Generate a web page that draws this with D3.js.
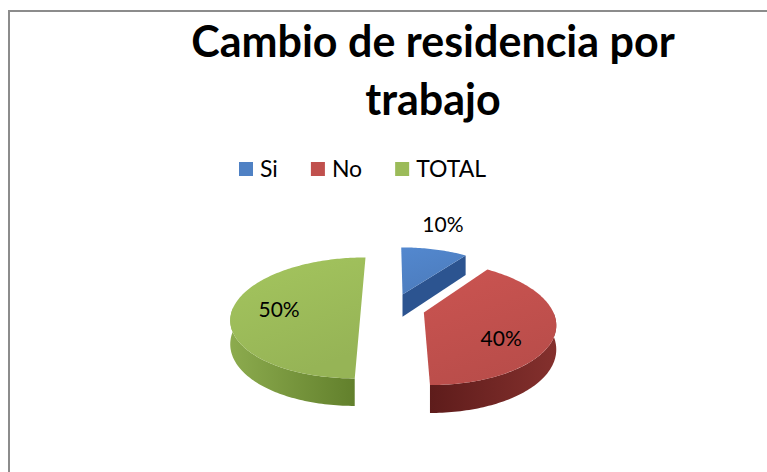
<!DOCTYPE html>
<html>
<head>
<meta charset="utf-8">
<script src="https://cdn.jsdelivr.net/npm/d3@7"></script>
<style>
  body { margin: 0; background: #fff; }
  svg { display: block; }
</style>
</head>
<body>
<script>
var categories = ['Si', 'No', 'TOTAL'];
var values = [10, 40, 50];
var labels = ['10%', '40%', '50%'];
var titleLines = ['Cambio de residencia por', 'trabajo'];

var W = 767, H = 472;
var font = 'Lato, "Open Sans", sans-serif';

// 3d look: top face colour, wall colours (light -> dark)
var tops = ['#4f81c4', '#c0504d', '#9bbb59'];
var walls = [['#3b6aa6', '#2c5490'], ['#5e1c1b', '#84302d'], ['#8cab4e', '#62802c']];

var geo = {cx: 393, cy: 308, R: 128, tilt: 0.46, persp: 0.164, depth: 23, explode: 32};
// label placement: radius factor and vertical nudge
var labelPos = [{r: 1.32, dy: -13}, {r: 0.6, dy: 14}, {r: 0.64, dy: 2}];

var svg = d3.select('body').append('svg')
  .attr('width', W)
  .attr('height', H);

svg.append('rect')
  .attr('x', 9).attr('y', 11)
  .attr('width', W + 10).attr('height', H + 10)
  .attr('fill', '#fff')
  .attr('stroke', '#8c8c8c')
  .attr('stroke-width', 2);

var defs = svg.append('defs');
walls.forEach(function(c, i) {
  var g = defs.append('linearGradient').attr('id', 'wall' + i)
    .attr('x1', 0).attr('x2', 1).attr('y1', 0).attr('y2', 0);
  g.append('stop').attr('offset', '0%').attr('stop-color', c[0]);
  g.append('stop').attr('offset', '100%').attr('stop-color', c[1]);
});
tops.forEach(function(c, i) {
  var g = defs.append('linearGradient').attr('id', 'top' + i)
    .attr('x1', 0).attr('x2', 0.4).attr('y1', 0).attr('y2', 1);
  g.append('stop').attr('offset', '0%').attr('stop-color', d3.color(c).brighter(0.15));
  g.append('stop').attr('offset', '100%').attr('stop-color', d3.color(c).darker(0.1));
});

// title
svg.append('g').selectAll('text')
  .data(titleLines)
  .enter().append('text')
  .attr('x', 433)
  .attr('y', function(d, i) { return 57 + i * 58; })
  .attr('text-anchor', 'middle')
  .style('font-family', font)
  .style('font-weight', 'bold')
  .style('font-size', '43px')
  .text(function(d) { return d; });

// legend
var legend = svg.append('g').attr('transform', 'translate(239,162)');
var lx = 0;
categories.forEach(function(c, i) {
  var it = legend.append('g').attr('transform', 'translate(' + lx + ',0)');
  it.append('rect').attr('width', 14).attr('height', 14).attr('fill', tops[i]);
  var t = it.append('text')
    .attr('x', 21).attr('y', 15)
    .style('font-family', font)
    .style('font-size', '23px')
    .text(c);
  lx += 21 + t.node().getComputedTextLength() + 33;
});

// projection of a point on the tilted disc
function proj(X, Z, h) {
  var k = 1 / (1 + geo.persp * Z / geo.R);
  return [geo.cx + X * k, geo.cy - Z * geo.tilt * k + h * k];
}
function pt(s, a, r, h) {
  return proj(s.ox + r * Math.sin(a), s.oz + r * Math.cos(a), h);
}
function arcPts(s, a0, a1, r, h) {
  var n = Math.max(2, Math.ceil(Math.abs(a1 - a0) / 0.02));
  return d3.range(n + 1).map(function(j) { return pt(s, a0 + (a1 - a0) * j / n, r, h); });
}
var line = d3.line();

var pie = d3.pie().sort(null).value(function(d) { return d; });
var slices = pie(values).map(function(d, i) {
  var mid = (d.startAngle + d.endAngle) / 2;
  d.i = i;
  d.ox = geo.explode * Math.sin(mid);
  d.oz = geo.explode * Math.cos(mid);
  return d;
});

var plot = svg.append('g');
slices.forEach(function(s) {
  var g = plot.append('g');
  var R = geo.R, D = geo.depth;
  // front outer wall
  var w0 = Math.max(s.startAngle, Math.PI / 2), w1 = Math.min(s.endAngle, 3 * Math.PI / 2);
  if (w1 > w0) {
    var p = arcPts(s, w0, w1, R, 0).concat(arcPts(s, w1, w0, R, D));
    g.append('path').attr('d', line(p) + 'Z').attr('fill', 'url(#wall' + s.i + ')');
  }
  // radial wall at end angle when it faces the viewer
  var nA = s.endAngle + Math.PI / 2;
  if (Math.cos(nA) < -0.1) {
    var q = [pt(s, 0, 0, 0), pt(s, s.endAngle, R, 0), pt(s, s.endAngle, R, D), pt(s, 0, 0, D)];
    g.append('path').attr('d', line(q) + 'Z').attr('fill', walls[s.i][1]);
  }
  // top face
  var tp = [pt(s, 0, 0, 0)].concat(arcPts(s, s.startAngle, s.endAngle, R, 0));
  g.append('path').attr('d', line(tp) + 'Z').attr('fill', 'url(#top' + s.i + ')');
});

// data labels
slices.forEach(function(s) {
  var lp = labelPos[s.i];
  var mid = (s.startAngle + s.endAngle) / 2;
  var c = pt(s, mid, geo.R * lp.r, 0);
  plot.append('text')
    .attr('x', c[0])
    .attr('y', c[1] + lp.dy)
    .attr('dy', '0.35em')
    .attr('text-anchor', 'middle')
    .style('font-family', font)
    .style('font-size', '21px')
    .text(labels[s.i]);
});
</script>
</body>
</html>
